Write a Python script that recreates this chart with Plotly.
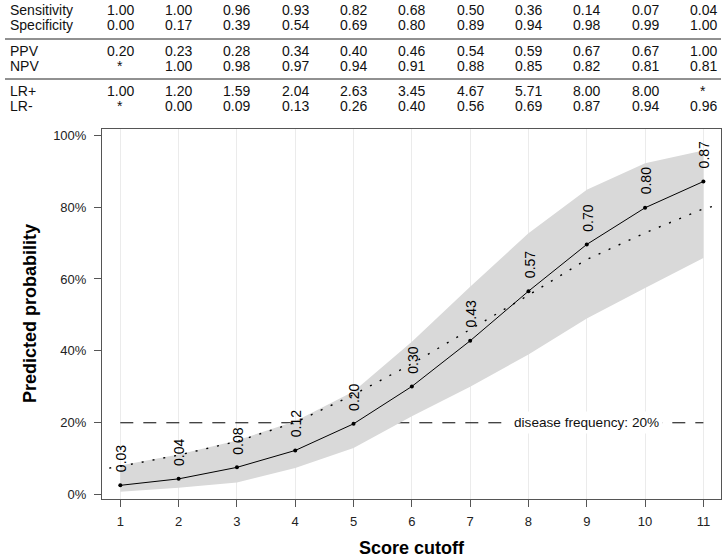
import plotly.graph_objects as go

# ---------------- data ----------------
score = [1, 2, 3, 4, 5, 6, 7, 8, 9, 10, 11]
predicted = [0.026, 0.044, 0.076, 0.123, 0.197, 0.301, 0.428, 0.566, 0.696, 0.798, 0.871]
ci_lower = [0.008, 0.019, 0.034, 0.074, 0.130, 0.218, 0.300, 0.390, 0.490, 0.575, 0.658]
ci_upper = [0.081, 0.112, 0.151, 0.204, 0.287, 0.425, 0.578, 0.727, 0.848, 0.922, 0.957]

fit_x = [0.81, 1, 2, 3, 4, 5, 6, 7, 8, 9, 10, 11, 11.28]
fit_y = [0.074, 0.079, 0.110, 0.148, 0.201, 0.278, 0.364, 0.459, 0.555, 0.654, 0.728, 0.795, 0.807]

disease_freq = 0.20

sensitivity = [1.00, 1.00, 0.96, 0.93, 0.82, 0.68, 0.50, 0.36, 0.14, 0.07, 0.04]
specificity = [0.00, 0.17, 0.39, 0.54, 0.69, 0.80, 0.89, 0.94, 0.98, 0.99, 1.00]
ppv = [0.20, 0.23, 0.28, 0.34, 0.40, 0.46, 0.54, 0.59, 0.67, 0.67, 1.00]
npv = [None, 1.00, 0.98, 0.97, 0.94, 0.91, 0.88, 0.85, 0.82, 0.81, 0.81]
lr_pos = [1.00, 1.20, 1.59, 2.04, 2.63, 3.45, 4.67, 5.71, 8.00, 8.00, None]
lr_neg = [None, 0.00, 0.09, 0.13, 0.26, 0.40, 0.56, 0.69, 0.87, 0.94, 0.96]

table_rows = [
    ("Sensitivity", sensitivity),
    ("Specificity", specificity),
    ("PPV", ppv),
    ("NPV", npv),
    ("LR+", lr_pos),
    ("LR-", lr_neg),
]

y_tickvals = [0, 0.2, 0.4, 0.6, 0.8, 1.0]
y_ticktext = ["0%", "20%", "40%", "60%", "80%", "100%"]

# ---------------- layout constants ----------------
FONT = "Liberation Sans, Arial, sans-serif"
W, H = 727, 559
ML, MR, MT, MB = 102, 6, 129, 60
PW = W - ML - MR
PH = H - MT - MB


def py(px):
    return (H - MB - px) / PH


def pxx(px):
    return (px - ML) / PW


fig = go.Figure()

# disease frequency reference line (under the band)
fig.add_trace(go.Scatter(
    x=[score[0], score[-1]], y=[disease_freq, disease_freq], mode="lines",
    line=dict(color="black", width=1, dash="13px,10px"), hoverinfo="skip"))

# confidence band
fig.add_trace(go.Scatter(
    x=score + score[::-1], y=ci_upper + ci_lower[::-1], mode="lines",
    fill="toself", fillcolor="#D9D9D9", line=dict(width=0, color="rgba(0,0,0,0)"),
    hoverinfo="skip"))

# dotted fitted curve
fig.add_trace(go.Scatter(
    x=fit_x, y=fit_y, mode="lines",
    line=dict(color="black", width=1.4, dash="2px,9px"), hoverinfo="skip"))

# predicted probability
fig.add_trace(go.Scatter(
    x=score, y=predicted, mode="lines+markers",
    line=dict(color="black", width=1), marker=dict(color="black", size=4)))

annotations = []
for xv, yv in zip(score, predicted):
    annotations.append(dict(
        x=xv, y=yv, xref="x", yref="y", text=f"{yv:.2f}", showarrow=False,
        textangle=-90, xanchor="center", yanchor="bottom", yshift=11, xshift=1,
        font=dict(family=FONT, size=14, color="black")))

annotations.append(dict(
    x=9, y=disease_freq, xref="x", yref="y", text="disease frequency: 20%",
    showarrow=False, bgcolor="white", borderpad=3, xanchor="center", yanchor="middle",
    font=dict(family=FONT, size=13.6, color="#111")))

# table
row_px = [10, 25, 51.3, 66.3, 90.8, 105.8]
for (label, vals), rp in zip(table_rows, row_px):
    annotations.append(dict(
        x=pxx(8), y=py(rp), xref="paper", yref="paper", text=label,
        showarrow=False, xanchor="left", yanchor="middle",
        font=dict(family=FONT, size=14, color="#111")))
    for xv, v in zip(score, vals):
        annotations.append(dict(
            x=xv, y=py(rp), xref="x", yref="paper",
            text="*" if v is None else f"{v:.2f}",
            showarrow=False, xanchor="center", yanchor="middle",
            font=dict(family=FONT, size=14, color="#111")))

shapes = []
for lp in [39, 79]:
    shapes.append(dict(type="line", xref="paper", yref="paper",
                       x0=pxx(5), x1=1.0, y0=py(lp), y1=py(lp),
                       line=dict(color="#222", width=1)))

# axis titles
annotations.append(dict(
    x=0.5, y=py(548.3), xref="paper", yref="paper", text="<b>Score cutoff</b>",
    showarrow=False, xanchor="center", yanchor="middle",
    font=dict(family=FONT, size=18, color="black")))
annotations.append(dict(
    x=pxx(30), y=py(314), xref="paper", yref="paper", text="<b>Predicted probability</b>",
    showarrow=False, textangle=-90, xanchor="center", yanchor="middle",
    font=dict(family=FONT, size=18, color="black")))

fig.update_layout(
    width=W, height=H,
    margin=dict(l=ML, r=MR, t=MT, b=MB, pad=0),
    plot_bgcolor="white", paper_bgcolor="white",
    showlegend=False,
    font=dict(family=FONT, size=13, color="#222"),
    annotations=annotations, shapes=shapes,
    xaxis=dict(range=[0.686, 11.302], tickvals=score, showgrid=True,
               gridcolor="#EBEBEB", gridwidth=1, zeroline=False,
               showline=True, mirror=True, linecolor="#555", linewidth=1,
               ticks="outside", ticklen=7, tickcolor="#555",
               ticklabelstandoff=3,
               tickfont=dict(family=FONT, size=13, color="#222")),
    yaxis=dict(range=[-0.012, 1.017], tickvals=y_tickvals, ticktext=y_ticktext,
               showgrid=False, zeroline=False,
               showline=True, mirror=True, linecolor="#555", linewidth=1,
               ticks="outside", ticklen=7, tickcolor="#555",
               ticklabelstandoff=5,
               tickfont=dict(family=FONT, size=13, color="#222")),
)

fig.write_html("out.html", config={"displayModeBar": False},
               post_script="document.body.style.margin='0px';")
